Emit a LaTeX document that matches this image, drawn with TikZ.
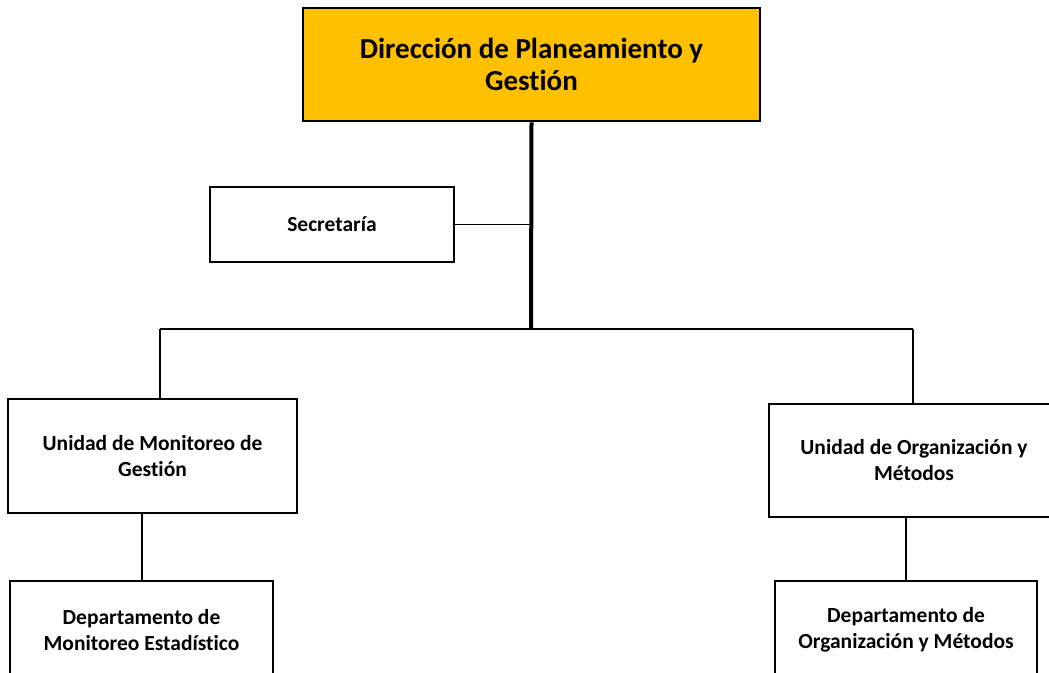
\documentclass[tikz,border=0pt]{standalone}
\usepackage{fontspec}
\setmainfont{Carlito}[Ligatures=NoCommon]
\begin{document}
\begin{tikzpicture}[x=1pt,y=-1pt,
  box/.style={draw=black, line width=2.6pt, rectangle, align=center, font=\bfseries, inner sep=0pt},
  txt/.style={font=\bfseries\fontsize{21.5}{26}\selectfont},
  thin/.style={line width=1.5pt},
  trunk/.style={line width=4pt}]
\useasboundingbox (0,0) rectangle (1049,672);
\clip (0,0) rectangle (1049,672);
\node[box, fill={rgb,255:red,255;green,192;blue,0}, minimum width=457pt, minimum height=113pt,
  font=\bfseries\fontsize{29}{32}\selectfont] (dir) at (531.5,64.5) {Dirección de Planeamiento y\\Gestión};
\node[box, txt, minimum width=244pt, minimum height=75pt] (sec) at (332,224.5) {Secretaría};
\node[box, txt, minimum width=289pt, minimum height=114pt] (uL) at (152.5,456) {Unidad de Monitoreo de\\Gestión};
\node[box, txt, minimum width=290pt, minimum height=113pt] (uR) at (914,460.5) {Unidad de Organización y\\Métodos};
\node[box, txt, minimum width=263pt, minimum height=98pt] (dL) at (141.5,630) {Departamento de\\Monitoreo Estadístico};
\node[box, txt, minimum width=262pt, minimum height=98pt] (dR) at (906,630) {Departamento de\\Organización y Métodos};
\coordinate (j) at (531,329);
\coordinate (jL) at (160,329);
\coordinate (jR) at (913,329);
\draw[trunk] (dir.south) -- (j);
\draw[thin] (sec.east) -- (sec.east -| dir.south);
\draw[thin] (jL) -- (jR);
\draw[thin] (jL) -- (jL |- uL.north);
\draw[thin] (jR) -- (jR |- uR.north);
\draw[thin] (uL.south -| 142,0) -- (dL.north -| 142,0);
\draw[thin] (uR.south -| 906,0) -- (dR.north);
\end{tikzpicture}
\end{document}
